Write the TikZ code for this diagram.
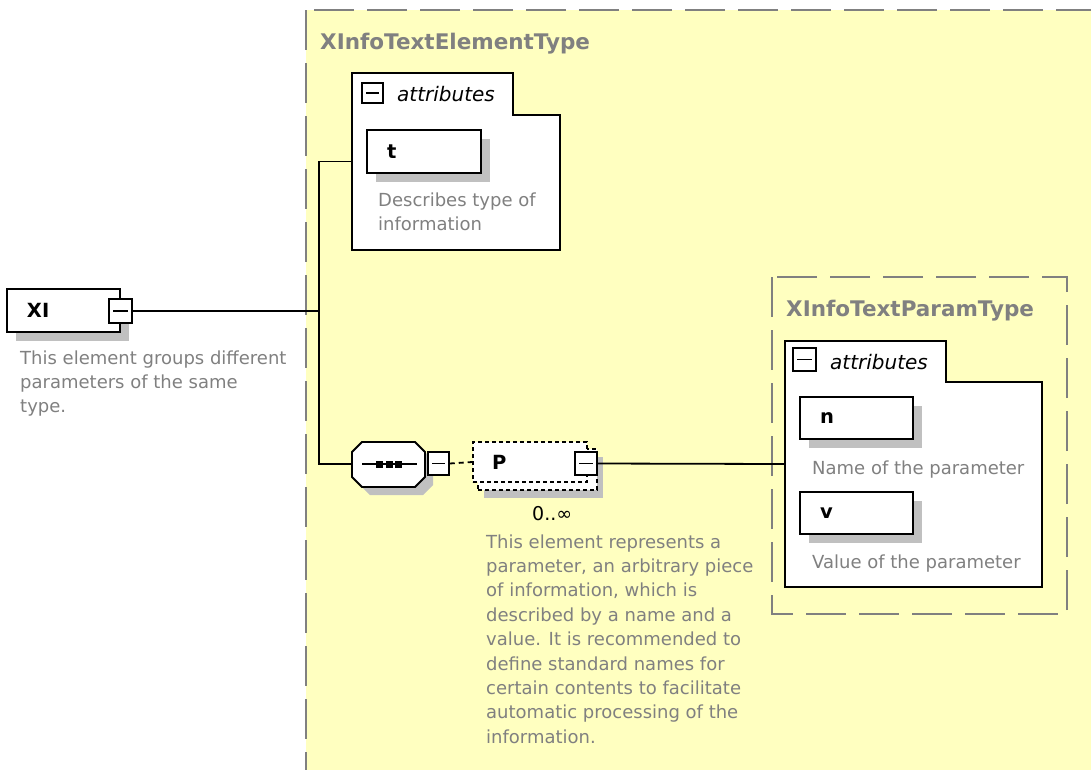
\documentclass[tikz,border=0pt]{standalone}
\usepackage{fontspec}
\setmainfont{DejaVu Sans}
\usetikzlibrary{shadows,fit}

\definecolor{paper}{RGB}{255,255,192}
\definecolor{frame}{RGB}{128,128,128}
\definecolor{note}{RGB}{128,128,128}
\definecolor{shadowgray}{RGB}{192,192,192}

\tikzset{
  elem/.style={draw, line width=1.8pt, fill=white, inner xsep=20pt, inner ysep=0pt,
    align=left, font=\fontsize{19.5}{22}\selectfont\bfseries,
    drop shadow={shadow xshift=9pt, shadow yshift=-9pt, fill=shadowgray, opacity=1}},
  optelem/.style={draw, line width=1.6pt, dash pattern=on 4pt off 3pt, fill=white,
    inner xsep=19pt, inner ysep=0pt, align=left, font=\fontsize{19.5}{22}\selectfont\bfseries},
  collapse/.style={draw, line width=1.5pt, fill=white, minimum width=22pt, minimum height=23pt,
    inner sep=0pt, path picture={\draw[line width=1.4pt]
      ([xshift=4pt]path picture bounding box.west) -- ([xshift=-4pt]path picture bounding box.east);}},
  % multi-line notes are placed by the baseline of their last line
  desc/.style={text=note, font=\fontsize{18}{24.4}\selectfont, align=left, inner sep=0pt, anchor=base west},
  typename/.style={text=frame, font=\fontsize{21.5}{24}\selectfont\bfseries, inner sep=0pt, anchor=base west},
  typebox/.style={draw=frame, line width=2pt, dash pattern=on 40pt off 13pt, fill=paper},
  group/.style={draw, line width=1.8pt, fill=white},
  grouptitle/.style={font=\fontsize{20}{24}\selectfont\itshape, inner sep=0pt, anchor=base west},
  hold/.style={inner sep=0pt, draw=none},
  wire/.style={line width=1.8pt},
}

\begin{document}
\begin{tikzpicture}[x=1pt,y=-1pt]
\useasboundingbox (0,0) rectangle (1091,769);
\clip (0,0) rectangle (1091,769);

% complex type XInfoTextElementType
\filldraw[typebox] (306,10) rectangle (1130,800);
\node[typename] (ettitle) at (320,49) {XInfoTextElementType};

% attribute group with t
\filldraw[group] (352,73) -- (513,73) -- (513,115) -- (560,115) -- (560,250) -- (352,250) -- cycle;
\node[hold, fit={(352,73) (560,250)}] (attr1) {};
\node[collapse, minimum width=21pt, minimum height=20pt] (attr1c) at (372.5,93) {};
\node[grouptitle] (attr1t) at (397,101) {attributes};
\node[elem, text width=74pt, minimum height=43pt] (t) at (424,151.5) {t};
\node[desc] (tdesc) at (378,230.4) {Describes type of\\information};

% root element XI
\node[elem, text width=73pt, minimum height=43pt] (xi) at (63.5,310.5) {XI};
\node[collapse, minimum width=23pt, minimum height=24pt] (xic) at (120.5,311) {};
\node[desc] (xidesc) at (20,412.8) {This element groups different\\parameters of the same\\type.};

% sequence compositor
\fill[shadowgray, shift={(8,8)}] (352,452) -- (362,442) -- (415,442) -- (425,452) -- (425,477) -- (415,487) -- (362,487) -- (352,477) -- cycle;
\filldraw[fill=white, line width=1.8pt] (352,452) -- (362,442) -- (415,442) -- (425,452) -- (425,477) -- (415,487) -- (362,487) -- (352,477) -- cycle;
\node[hold, fit={(352,442) (425,486)}] (seq) {};
\draw[line width=1.5pt] (362,464) -- (417,464);
\fill (376,460.5) rectangle (383,467.5);
\fill (385.5,460.5) rectangle (392.5,467.5);
\fill (395,460.5) rectangle (402,467.5);
\node[collapse, minimum width=21pt, minimum height=23pt] (seqc) at (438.5,463.5) {};

% trunk from XI to its content
\coordinate (trunk) at (319,311);
\draw[wire] (xic.east) -- (trunk);
\draw[wire] (attr1.west) -| (trunk) |- (seq.west);

% repeated optional element P
\node[optelem, minimum width=119pt, minimum height=41pt,
  drop shadow={shadow xshift=6pt, shadow yshift=-8pt, fill=shadowgray, opacity=1}] (pback) at (537.5,469.5) {};
\node[optelem, text width=76pt, minimum height=40pt] (p) at (530,462) {P};
\node[collapse] (pc) at (586,463.5) {};
\draw[wire, dash pattern=on 5pt off 4pt] (seqc.east) -- (p.west);
\node[inner sep=0pt, anchor=base west, font=\fontsize{19}{22}\selectfont] (pocc) at (532,520) {0..∞};
\node[desc] (pdesc) at (486,743.2) {This element represents a\\parameter, an arbitrary piece\\of information, which is\\described by a name and a\\value. It is recommended to\\define standard names for\\certain contents to facilitate\\automatic processing of the\\information.};

% complex type XInfoTextParamType
\filldraw[typebox] (772,277) rectangle (1067,614);
\node[typename] (pttitle) at (786,316) {XInfoTextParamType};
\filldraw[group] (785,341) -- (946,341) -- (946,382) -- (1042,382) -- (1042,587) -- (785,587) -- cycle;
\node[hold, fit={(785,341) (1042,587)}] (attr2) {};
\node[collapse, minimum width=23pt, minimum height=23pt] (attr2c) at (804.5,359.5) {};
\node[grouptitle] (attr2t) at (830,369) {attributes};
\node[elem, text width=73pt, minimum height=42pt] (n) at (856.5,418) {n};
\node[desc] (ndesc) at (812,474) {Name of the parameter};
\node[elem, text width=73pt, minimum height=42pt] (v) at (856.5,513) {v};
\node[desc] (vdesc) at (812,568) {Value of the parameter};

\draw[wire] (pc.east) -- (attr2.west);
\end{tikzpicture}
\end{document}
